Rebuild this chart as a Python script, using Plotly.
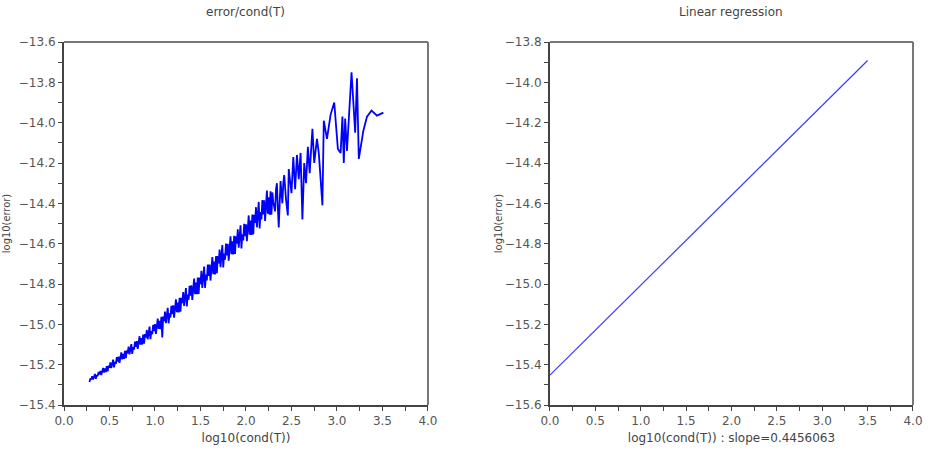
import plotly.graph_objects as go
from plotly.subplots import make_subplots

# ---- data: log10(cond(T)) vs log10(error) ----
cond_x = [
    0.28, 0.29, 0.30, 0.31, 0.32, 0.33, 0.34, 0.35, 0.36, 0.37, 0.38, 0.39,
    0.40, 0.41, 0.42, 0.43, 0.44, 0.45, 0.46, 0.47, 0.48, 0.49, 0.50, 0.51,
    0.52, 0.53, 0.54, 0.55, 0.56, 0.57, 0.58, 0.59, 0.60, 0.61, 0.62, 0.63,
    0.64, 0.65, 0.66, 0.67, 0.68, 0.69, 0.70, 0.71, 0.72, 0.73, 0.74, 0.75,
    0.76, 0.77, 0.78, 0.79, 0.80, 0.81, 0.82, 0.83, 0.84, 0.85, 0.86, 0.87,
    0.88, 0.89, 0.90, 0.91, 0.92, 0.93, 0.94, 0.95, 0.96, 0.97, 0.98, 0.99,
    1.00, 1.01, 1.02, 1.03, 1.04, 1.05, 1.06, 1.07, 1.08, 1.09, 1.10, 1.11,
    1.12, 1.13, 1.14, 1.15, 1.16, 1.17, 1.18, 1.19, 1.20, 1.21, 1.22, 1.23,
    1.24, 1.25, 1.26, 1.27, 1.28, 1.29, 1.30, 1.31, 1.32, 1.33, 1.34, 1.35,
    1.36, 1.37, 1.38, 1.39, 1.40, 1.41, 1.42, 1.43, 1.44, 1.45, 1.46, 1.47,
    1.48, 1.49, 1.50, 1.51, 1.52, 1.53, 1.54, 1.55, 1.56, 1.57, 1.58, 1.59,
    1.60, 1.61, 1.62, 1.63, 1.64, 1.65, 1.66, 1.67, 1.68, 1.69, 1.70, 1.71,
    1.72, 1.73, 1.74, 1.75, 1.76, 1.77, 1.78, 1.79, 1.80, 1.81, 1.82, 1.83,
    1.84, 1.85, 1.86, 1.87, 1.88, 1.89, 1.90, 1.91, 1.92, 1.93, 1.94, 1.95,
    1.96, 1.97, 1.98, 1.99, 2.00, 2.01, 2.02, 2.03, 2.04, 2.05, 2.06, 2.07,
    2.08, 2.09, 2.10, 2.11, 2.12, 2.13, 2.14, 2.15, 2.16, 2.17, 2.18, 2.19,
    2.20, 2.21, 2.22, 2.23, 2.24, 2.25, 2.26, 2.27, 2.28, 2.29, 2.30,
    2.32, 2.33, 2.34, 2.35, 2.36, 2.38, 2.40, 2.41, 2.42, 2.44, 2.46, 2.47,
    2.49, 2.50, 2.52, 2.54, 2.56, 2.58, 2.60, 2.62, 2.64, 2.66, 2.68, 2.70,
    2.73, 2.75, 2.78, 2.80, 2.84, 2.855, 2.89, 2.93, 2.97, 3.01, 3.04, 3.06,
    3.075, 3.09, 3.11, 3.16, 3.20, 3.22, 3.24, 3.29, 3.33, 3.38, 3.44, 3.51,
]
log_err = [
    -15.286, -15.268, -15.273, -15.257, -15.274, -15.258, -15.246, -15.270,
    -15.252, -15.257, -15.236, -15.249, -15.231, -15.252, -15.232, -15.216,
    -15.239, -15.219, -15.237, -15.207, -15.233, -15.205, -15.215, -15.189,
    -15.217, -15.194, -15.175, -15.213, -15.186, -15.196, -15.163, -15.185,
    -15.160, -15.191, -15.162, -15.139, -15.174, -15.146, -15.171, -15.131,
    -15.168, -15.129, -15.143, -15.111, -15.149, -15.119, -15.098, -15.147,
    -15.113, -15.126, -15.086, -15.112, -15.083, -15.122, -15.086, -15.059,
    -15.101, -15.068, -15.100, -15.051, -15.096, -15.048, -15.066, -15.028,
    -15.074, -15.039, -15.011, -15.073, -15.033, -15.049, -15.002, -15.034,
    -14.999, -15.048, -15.004, -14.972, -15.023, -14.983, -15.024, -14.963,
    -15.065, -14.961, -14.984, -14.937, -14.994, -14.951, -14.918, -14.995,
    -14.946, -14.966, -14.908, -14.949, -14.906, -14.967, -14.914, -14.876,
    -14.940, -14.892, -14.941, -14.869, -14.937, -14.868, -14.895, -14.840,
    -14.909, -14.858, -14.820, -14.911, -14.852, -14.878, -14.809, -14.858,
    -14.807, -14.879, -14.819, -14.773, -14.850, -14.793, -14.851, -14.768,
    -14.849, -14.768, -14.801, -14.735, -14.819, -14.758, -14.714, -14.819,
    -14.753, -14.782, -14.704, -14.760, -14.704, -14.783, -14.717, -14.666,
    -14.751, -14.689, -14.753, -14.662, -14.747, -14.662, -14.698, -14.629,
    -14.717, -14.653, -14.607, -14.718, -14.649, -14.679, -14.600, -14.658,
    -14.601, -14.684, -14.614, -14.563, -14.652, -14.588, -14.654, -14.561,
    -14.651, -14.563, -14.600, -14.529, -14.620, -14.556, -14.509, -14.624,
    -14.553, -14.584, -14.502, -14.563, -14.504, -14.588, -14.516, -14.460,
    -14.556, -14.486, -14.557, -14.456, -14.554, -14.457, -14.497, -14.419,
    -14.519, -14.447, -14.393, -14.525, -14.443, -14.480, -14.384, -14.455,
    -14.385, -14.487, -14.402, -14.337, -14.451, -14.370, -14.456, -14.340,
    -14.456, -14.346, -14.395,
    -14.440, -14.330, -14.300, -14.420, -14.520, -14.290, -14.400, -14.300,
    -14.260, -14.380, -14.460, -14.230, -14.310, -14.350, -14.170, -14.330,
    -14.160, -14.280, -14.150, -14.480, -14.200, -14.300, -14.120, -14.250,
    -14.030, -14.200, -14.080, -14.150, -14.410, -13.990, -14.080, -13.960,
    -13.900, -14.130, -14.150, -13.970, -14.200, -13.980, -14.140, -13.750,
    -14.050, -13.780, -14.180, -14.040, -13.970, -13.940, -13.965, -13.950,
]

# ---- linear regression line ----
fit_x = [0.0, 3.5]
fit_y = [-15.452, -13.892]
slope_label = "0.4456063"

titles = ["error/cond(T)", "Linear regression"]
x_titles = ["log10(cond(T))", "log10(cond(T)) : slope=" + slope_label]
y_title = "log10(error)"

fig = make_subplots(rows=1, cols=2, horizontal_spacing=0.05)

fig.add_trace(go.Scatter(x=cond_x, y=log_err, mode="lines",
                         line=dict(color="#0000ff", width=1.8),
                         showlegend=False), row=1, col=1)
fig.add_trace(go.Scatter(x=fit_x, y=fit_y, mode="lines",
                         line=dict(color="#3a3aff", width=1.2),
                         showlegend=False), row=1, col=2)

tickfont = dict(family="DejaVu Sans", size=12, color="#555555")
axis_common = dict(
    showline=True, linecolor="#444444", linewidth=2, mirror=False,
    ticks="outside", ticklen=4, tickwidth=1, tickcolor="#444444",
    showgrid=False, zeroline=False, tickfont=tickfont, automargin=False,
)

fig.update_xaxes(**axis_common, range=[0, 4], dtick=0.5, tickformat=".1f",
                 minor=dict(dtick=0.25, ticks="outside", ticklen=4,
                            tickcolor="#444444", showgrid=False))
fig.update_yaxes(**axis_common, dtick=0.2, tickformat=".1f",
                 minor=dict(dtick=0.1, ticks="outside", ticklen=4,
                            tickcolor="#444444", showgrid=False))

xtf = dict(family="DejaVu Sans", size=12, color="#444444")
fig.update_xaxes(domain=[0, 0.4287], row=1, col=1,
                 title=dict(text=x_titles[0], standoff=6, font=xtf))
fig.update_xaxes(domain=[0.5724, 1.0], row=1, col=2,
                 title=dict(text=x_titles[1], standoff=6, font=xtf))
ytf = dict(family="Liberation Sans Narrow, DejaVu Sans Condensed, sans-serif",
           size=11, color="#444444")
fig.update_yaxes(range=[-15.4, -13.6], row=1, col=1,
                 title=dict(text=y_title, standoff=8, font=ytf))
fig.update_yaxes(range=[-15.6, -13.8], row=1, col=2,
                 title=dict(text=y_title, standoff=0, font=ytf))

# frame top/right lines
shapes = []
for xr, yr in (("x domain", "y domain"), ("x2 domain", "y2 domain")):
    shapes.append(dict(type="line", xref=xr, yref=yr, x0=0, x1=1, y0=1, y1=1,
                       line=dict(color="#777777", width=2)))
    shapes.append(dict(type="line", xref=xr, yref=yr, x0=1, x1=1, y0=0, y1=1,
                       line=dict(color="#777777", width=2)))

annotations = []
for t, cx in zip(titles, [0.4287 / 2, (0.5724 + 1.0) / 2]):
    annotations.append(dict(text=t, xref="paper", yref="paper", x=cx, y=1,
                            yshift=30, showarrow=False, xanchor="center",
                            yanchor="middle",
                            font=dict(family="DejaVu Sans", size=12, color="#444444")))

fig.update_layout(
    width=930, height=457,
    margin=dict(l=64, r=17, t=42, b=52, autoexpand=False),
    paper_bgcolor="white", plot_bgcolor="white",
    shapes=shapes, annotations=annotations,
    showlegend=False,
)

fig.write_html("out.html")
